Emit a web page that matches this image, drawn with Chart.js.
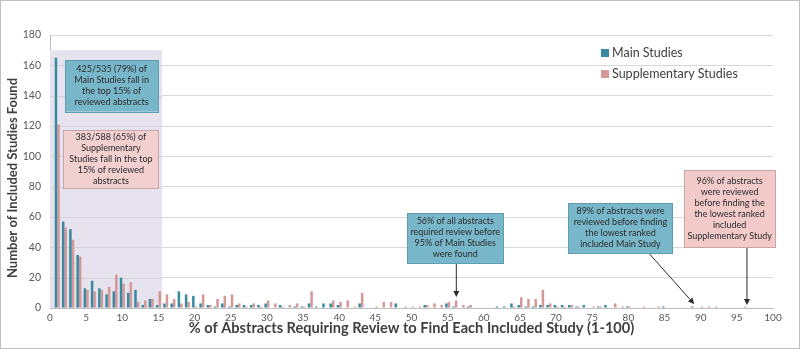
<!DOCTYPE html>
<html><head><meta charset="utf-8">
<script src="https://cdn.jsdelivr.net/npm/chart.js@4/dist/chart.umd.min.js"></script>
<style>html,body{margin:0;padding:0;background:#fff;}#wrap{width:800px;height:349px;position:relative;}</style>
</head><body><div id="wrap"><canvas id="c" width="800" height="349"></canvas></div>
<script>
// Categories: % of abstracts reviewed (0-100)
const categories = ['0','1','2','3','4','5','6','7','8','9','10','11','12','13','14','15','16','17','18','19','20',
'21','22','23','24','25','26','27','28','29','30','31','32','33','34','35','36','37','38','39','40',
'41','42','43','44','45','46','47','48','49','50','51','52','53','54','55','56','57','58','59','60',
'61','62','63','64','65','66','67','68','69','70','71','72','73','74','75','76','77','78','79','80',
'81','82','83','84','85','86','87','88','89','90','91','92','93','94','95','96','97','98','99','100'];
const xTickLabels = ['0','5','10','15','20','25','30','35','40','45','50','55','60','65','70','75','80','85','90','95','100'];
const mainStudies = [0,165,57,52,35,13,18,13,9,11,20,10,12,2,6,2,3,3,11,9,8,
3,2,1,3,1,2,2,2,2,3,0,2,0,1,1,3,1,3,3,2,
0,0,3,0,0,0,0,3,0,0,0,2,0,0,3,1,0,1,0,0,
0,1,1,3,2,1,1,2,2,2,2,2,1,2,0,1,2,0,0,1,
0,0,0,0,1,0,0,0,1,0,0,0,0,0,0,0,0,0,0,0];
const supplementaryStudies = [0,121,53,45,34,12,11,12,14,22,16,17,4,5,6,11,9,6,3,4,1,
9,2,6,8,9,3,1,3,1,5,3,1,2,3,1,11,0,0,5,4,
5,1,10,0,1,4,4,0,1,1,1,2,3,2,4,5,2,2,0,0,
0,0,0,1,7,6,6,12,3,1,1,2,1,0,1,1,0,3,1,1,
0,1,0,1,0,0,0,0,0,1,1,1,0,0,0,1,0,0,0,0];
const seriesNames = ['Main Studies','Supplementary Studies'];
const xTitle = '% of Abstracts Requiring Review to Find Each Included Study (1-100)';
const yTitle = 'Number of Included Studies Found';

const TEAL = '#3A8BA2', PINK = '#D69896';
const FONT = 'Lato, "Open Sans", sans-serif';

// annotations in data coordinates (x = category position, y = value)
const shade = {x0:0, x1:15.5, y1:170};
const notes = [
  {x0:2.1, x1:14.95, yTop:163.5, yBot:129.5, fill:'#78B7C9', stroke:'#5E9DB1',
   lines:['425/535 (79%) of','Main Studies fall in','the top 15% of','reviewed abstracts']},
  {x0:1.85, x1:15.0, yTop:117.3, yBot:79.1, fill:'#F2D0D0', stroke:'#C9A6A6',
   lines:['383/588 (65%) of','Supplementary','Studies fall in the top','15% of reviewed','abstracts']},
  {x0:49.4, x1:62.7, yTop:62.6, yBot:29.7, fill:'#78B7C9', stroke:'#5E9DB1',
   lines:['56% of all abstracts','required review before','95% of Main Studies','were found'],
   arrow:{fx:56.2, fy:29.7, tx:56.2, ty:7.2}},
  {x0:71.7, x1:86.1, yTop:69.2, yBot:36.3, fill:'#78B7C9', stroke:'#5E9DB1',
   lines:['89% of abstracts were','reviewed before finding','the lowest ranked','included Main Study'],
   arrow:{fx:82.8, fy:36.3, tx:89.1, ty:2.6}},
  {x0:87.7, x1:100.3, yTop:91.0, yBot:40.2, fill:'#F2CACA', stroke:'#C9A6A6',
   lines:['96% of abstracts','were reviewed','before finding the','the lowest ranked','included','Supplementary Study'],
   arrow:{fx:96.4, fy:40.2, tx:96.4, ty:2.0}}
];

function xPix(chart, v){
  const s = chart.scales.x;
  const a = s.getPixelForValue(0), b = s.getPixelForValue(100);
  return a + (b - a) * v / 100;
}
function yPix(chart, v){ return chart.scales.y.getPixelForValue(v); }

const decor = {
  id:'decor',
  beforeDatasetsDraw(chart){
    const ctx = chart.ctx;
    ctx.save();
    ctx.fillStyle = '#E7E3EE';
    const x0 = xPix(chart, shade.x0), x1 = xPix(chart, shade.x1);
    const yt = yPix(chart, shade.y1), yb = yPix(chart, 0);
    ctx.fillRect(x0, yt, x1 - x0, yb - yt);
    ctx.strokeStyle = '#D6D3DC'; ctx.lineWidth = 1;
    for (let v = 20; v < 180; v += 20){
      const y = Math.round(yPix(chart, v)) + 0.5;
      if (y > yt){ ctx.beginPath(); ctx.moveTo(x0, y); ctx.lineTo(x1, y); ctx.stroke(); }
    }
    ctx.restore();
  },
  afterDatasetsDraw(chart){
    const ctx = chart.ctx;
    ctx.save();
    notes.forEach(n => {
      const x0 = xPix(chart, n.x0), x1 = xPix(chart, n.x1);
      const yt = yPix(chart, n.yTop), yb = yPix(chart, n.yBot);
      if (n.arrow){
        const fx = xPix(chart, n.arrow.fx), fy = yPix(chart, n.arrow.fy);
        const tx = xPix(chart, n.arrow.tx), ty = yPix(chart, n.arrow.ty);
        ctx.strokeStyle = '#2b2b2b'; ctx.fillStyle = '#2b2b2b'; ctx.lineWidth = 1;
        const ang = Math.atan2(ty - fy, tx - fx);
        const hl = 6, hw = 3;
        const bx = tx - hl * Math.cos(ang), by = ty - hl * Math.sin(ang);
        ctx.beginPath(); ctx.moveTo(fx, fy); ctx.lineTo(bx, by); ctx.stroke();
        ctx.beginPath();
        ctx.moveTo(tx, ty);
        ctx.lineTo(bx + hw * Math.sin(ang), by - hw * Math.cos(ang));
        ctx.lineTo(bx - hw * Math.sin(ang), by + hw * Math.cos(ang));
        ctx.closePath(); ctx.fill();
      }
      ctx.fillStyle = n.fill; ctx.fillRect(x0, yt, x1 - x0, yb - yt);
      ctx.strokeStyle = n.stroke; ctx.lineWidth = 1;
      ctx.strokeRect(Math.round(x0) + 0.5, Math.round(yt) + 0.5, Math.round(x1 - x0), Math.round(yb - yt));
      ctx.fillStyle = '#2a2a2a';
      ctx.font = '9px ' + FONT;
      ctx.textAlign = 'center'; ctx.textBaseline = 'middle';
      const lh = 11;
      const cy = (yt + yb) / 2, cx = (x0 + x1) / 2;
      const startY = cy - lh * (n.lines.length - 1) / 2;
      n.lines.forEach((l, i) => ctx.fillText(l, cx, startY + i * lh, x1 - x0 - 6));
    });
    ctx.restore();
  },
  afterDraw(chart){
    const ctx = chart.ctx;
    const ca = chart.chartArea;
    ctx.save();
    // axis titles
    ctx.fillStyle = '#404040';
    ctx.textAlign = 'center'; ctx.textBaseline = 'middle';
    ctx.font = 'bold 14.6px ' + FONT;
    ctx.fillText(xTitle, (ca.left + ca.right) / 2, 328);
    ctx.save();
    ctx.translate(13, 178);
    ctx.rotate(-Math.PI / 2);
    ctx.font = 'bold 13px ' + FONT;
    ctx.fillText(yTitle, 0, 0);
    ctx.restore();
    // legend
    const ds = chart.data.datasets;
    const lx = 601, ly = [53, 74];
    ctx.font = '12.5px ' + FONT; ctx.textBaseline = 'middle'; ctx.textAlign = 'left';
    ds.forEach((d, i) => {
      ctx.fillStyle = d.backgroundColor;
      ctx.fillRect(lx, ly[i] - 4, 8, 8);
      ctx.fillStyle = '#404040';
      ctx.fillText(d.label, lx + 11, ly[i]);
    });
    // outer border
    ctx.strokeStyle = '#BFBFBF'; ctx.lineWidth = 1;
    ctx.strokeRect(0.5, 0.5, chart.width - 1, chart.height - 1);
    ctx.restore();
  }
};

new Chart(document.getElementById('c'), {
  type:'bar',
  data:{
    labels: categories,
    datasets:[
      {label: seriesNames[0], data: mainStudies, backgroundColor: TEAL, categoryPercentage:0.7, barPercentage:1.0},
      {label: seriesNames[1], data: supplementaryStudies, backgroundColor: PINK, categoryPercentage:0.7, barPercentage:1.0}
    ]
  },
  options:{
    responsive:false, animation:false,
    layout:{padding:{left:0, right:27, top:35, bottom:0}},
    plugins:{legend:{display:false}, tooltip:{enabled:false}},
    scales:{
      x:{
        offset:false,
        grid:{display:false, drawTicks:false},
        border:{display:true, color:'#BFBFBF'},
        ticks:{autoSkip:false, maxRotation:0, minRotation:0, padding:4, color:'#595959',
          font:{family:FONT, size:10},
          callback:function(v, i){ const l = categories[i]; return xTickLabels.includes(l) ? l : ''; }},
        afterFit(s){ s.height = 41; }
      },
      y:{
        min:0, max:180,
        grid:{color:'#D9D9D9', drawTicks:false},
        border:{display:true, color:'#BFBFBF'},
        ticks:{stepSize:20, padding:9, color:'#595959', font:{family:FONT, size:10.5}},
        afterFit(s){ s.width = 50; }
      }
    }
  },
  plugins:[decor]
});
</script></body></html>
